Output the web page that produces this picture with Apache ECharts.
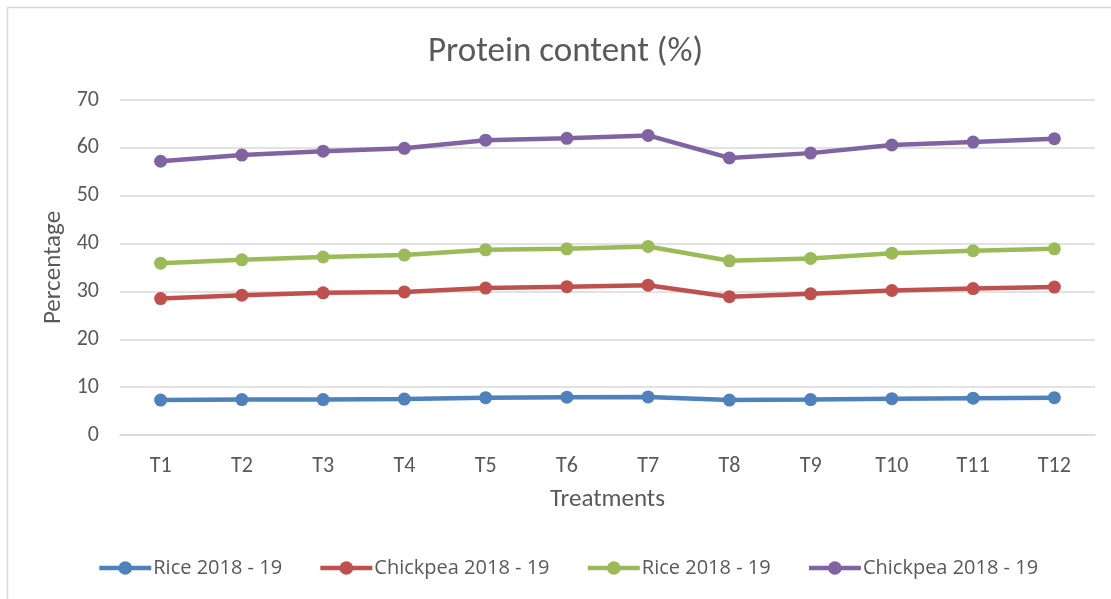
<!DOCTYPE html>
<html>
<head>
<meta charset="utf-8">
<script src="https://cdn.jsdelivr.net/npm/echarts@6/dist/echarts.min.js"></script>
<style>
  html, body { margin: 0; padding: 0; background: #fff; }
  #chart { width: 1111px; height: 599px; }
</style>
</head>
<body>
<div id="chart"></div>
<script>
// categories and values
const treatments = ["T1", "T2", "T3", "T4", "T5", "T6", "T7", "T8", "T9", "T10", "T11", "T12"];
const riceA = [7.3, 7.4, 7.4, 7.5, 7.8, 7.9, 7.95, 7.3, 7.4, 7.6, 7.7, 7.8];
const chickpeaA = [28.5, 29.2, 29.7, 29.9, 30.7, 31.0, 31.3, 28.9, 29.5, 30.2, 30.6, 30.9];
const riceB = [35.9, 36.6, 37.2, 37.6, 38.7, 38.9, 39.4, 36.4, 36.9, 38.0, 38.5, 38.9];
const chickpeaB = [57.2, 58.5, 59.3, 59.9, 61.6, 62.0, 62.6, 57.9, 58.9, 60.6, 61.2, 61.9];
const seriesNames = ["Rice 2018 - 19", "Chickpea 2018 - 19", "Rice 2018 - 19 ", "Chickpea 2018 - 19 "];
const colors = ["#4f81bd", "#c0504d", "#9bbb59", "#8064a2"];

const chart = echarts.init(document.getElementById("chart"));
const font = "Carlito, 'Liberation Sans Narrow', 'Liberation Sans', sans-serif";

function makeSeries(name, data, color) {
  return {
    name: name,
    type: "line",
    data: data,
    symbol: "circle",
    symbolSize: 13,
    itemStyle: { color: color },
    lineStyle: { color: color, width: 4.5 },
    emphasis: { disabled: true }
  };
}

const option = {
  animation: false,
  backgroundColor: "#fff",
  color: colors,
  title: {
    text: "Protein content (%)",
    left: 423,
    top: 30,
    textStyle: { fontFamily: font, fontSize: 35, fontWeight: "normal", color: "#595959" }
  },
  graphic: [{
    type: "rect",
    shape: { x: 7.5, y: 7.5, width: 1200, height: 700 },
    style: { fill: "none", stroke: "#d9d9d9", lineWidth: 1.5 },
    silent: true
  }],
  grid: { left: 120, right: 16, top: 100, bottom: 164 },
  legend: {
    bottom: 16,
    left: 92,
    itemWidth: 52,
    itemHeight: 17,
    itemGap: 36,
    lineStyle: { width: 4.5 },
    textStyle: { fontFamily: "'Open Sans', sans-serif", fontSize: 20, color: "#595959", padding: [0, 0, 0, -3] },
    formatter: function (n) { return n.trim(); }
  },
  xAxis: {
    type: "category",
    data: treatments,
    name: "Treatments",
    nameLocation: "middle",
    nameGap: 52,
    nameTextStyle: { fontFamily: font, fontSize: 25, color: "#595959" },
    axisLine: { lineStyle: { color: "#d9d9d9", width: 1.5 } },
    axisTick: { show: false },
    axisLabel: { fontFamily: font, fontSize: 22, color: "#595959", margin: 20 }
  },
  yAxis: {
    type: "value",
    min: 0,
    max: 70,
    interval: 10,
    name: "Percentage",
    nameLocation: "middle",
    nameGap: 52,
    nameTextStyle: { fontFamily: font, fontSize: 25, color: "#595959" },
    axisLine: { show: false },
    axisTick: { show: false },
    axisLabel: { fontFamily: font, fontSize: 22, color: "#595959", margin: 21 },
    splitLine: { lineStyle: { color: "#d9d9d9", width: 1.5 } }
  },
  series: [
    makeSeries(seriesNames[0], riceA, colors[0]),
    makeSeries(seriesNames[1], chickpeaA, colors[1]),
    makeSeries(seriesNames[2], riceB, colors[2]),
    makeSeries(seriesNames[3], chickpeaB, colors[3])
  ]
};

chart.setOption(option);
</script>
</body>
</html>
